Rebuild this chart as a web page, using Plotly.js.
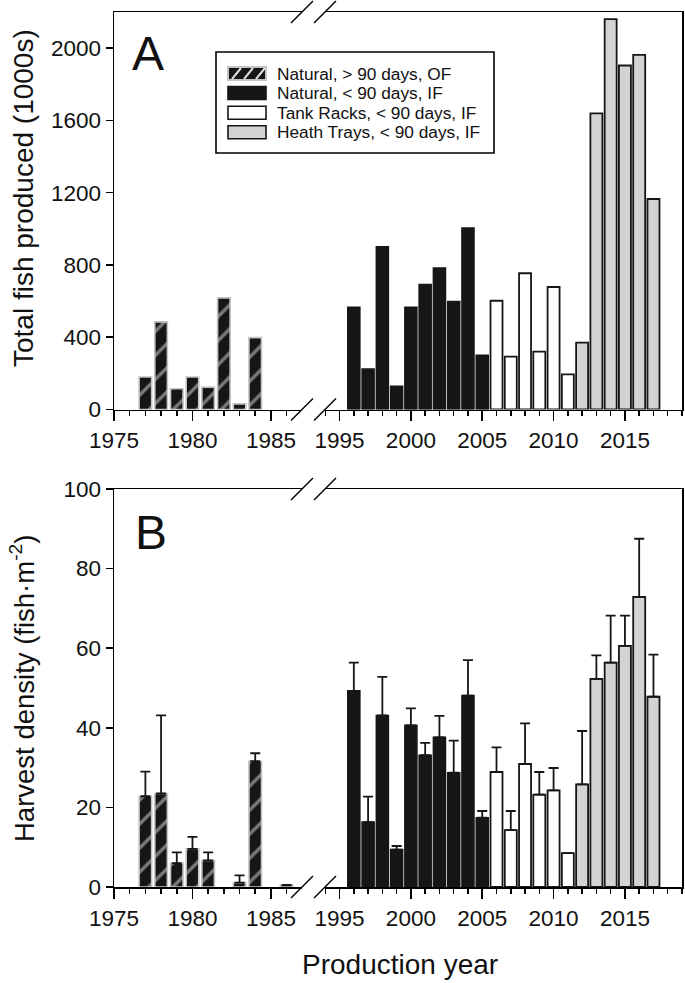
<!DOCTYPE html>
<html>
<head>
<meta charset="utf-8">
<script src="https://cdn.plot.ly/plotly-3.0.1.min.js"></script>
<style>
  html, body { margin: 0; padding: 0; background: #fff; }
  #chart { width: 685px; height: 983px; }
</style>
</head>
<body>
<div id="chart"></div>
<script>
// ---------------- DATA ----------------
const seriesNames = [
  "Natural, > 90 days, OF",
  "Natural, < 90 days, IF",
  "Tank Racks, < 90 days, IF",
  "Heath Trays, < 90 days, IF"
];
const yTitleA = "Total fish produced (1000s)";
const yTitleB = "Harvest density (fish·m<sup>-2</sup>)";
const xTitle = "Production year";
const panelLabels = ["A", "B"];

// Natural, > 90 days, OF (early period)
const yearsOF = [1977, 1978, 1979, 1980, 1981, 1982, 1983, 1984, 1985, 1986];
const producedOF = [180, 485, 115, 180, 124, 618, 31, 398, null, null];
const densityOF = [22.8, 23.5, 6.0, 9.6, 6.7, null, 1.1, 31.6, null, 0.5];
const densityErrOF = [6.2, 19.6, 2.7, 3.0, 2.0, null, 1.8, 2.0, null, 0];

// Natural, < 90 days, IF
const yearsNat = [1996, 1997, 1998, 1999, 2000, 2001, 2002, 2003, 2004, 2005];
const producedNat = [565, 224, 900, 128, 565, 691, 783, 598, 1004, 300];
const densityNat = [49.3, 16.3, 43.1, 9.4, 40.6, 33.1, 37.6, 28.7, 48.1, 17.4];
const densityErrNat = [7.1, 6.4, 9.7, 0.9, 4.3, 3.1, 5.4, 8.1, 8.9, 1.7];

// Tank Racks, < 90 days, IF
const yearsTank = [2006, 2007, 2008, 2009, 2010, 2011];
const producedTank = [602, 293, 754, 320, 678, 194];
const densityTank = [28.9, 14.3, 30.9, 23.2, 24.3, 8.5];
const densityErrTank = [6.2, 4.8, 10.2, 5.7, 5.6, 0];

// Heath Trays, < 90 days, IF
const yearsHeath = [2012, 2013, 2014, 2015, 2016, 2017];
const producedHeath = [370, 1639, 2161, 1904, 1963, 1165];
const densityHeath = [25.8, 52.3, 56.4, 60.6, 72.9, 47.8];
const densityErrHeath = [13.4, 5.9, 11.8, 7.6, 14.6, 10.6];

// axis settings
const leftRange = [1975, 1986.98];
const rightRange = [1993.98, 2019];
const rangeA = [0, 2200];
const rangeB = [0, 100];

// ---------------- LAYOUT HELPERS ----------------
const W = 685, H = 983;
const px = v => v / W;
const py = v => 1 - v / H;
const FONT = "Liberation Sans, Arial, Helvetica, sans-serif";
const BLACK = "#161616";
const TEXT = "#111";
const TICKSIZE = 22.5;

const plotL = 114, breakL = 302, breakR = 325, plotR = 682;
const A_top = 12, A_bot = 409.5, B_top = 489, B_bot = 887;

function zeros(a) { return a.map(() => 0); }

const styles = [
  { color: BLACK, line: { color: "#c4c4c4", width: 1.6 },
    pattern: { shape: "/", fgcolor: "#dcdcdc", size: 17, solidity: 0.2, fillmode: "overlay" } },
  { color: BLACK, line: { color: BLACK, width: 1.6 } },
  { color: "#ffffff", line: { color: BLACK, width: 1.8 } },
  { color: "#d3d3d3", line: { color: BLACK, width: 1.8 } }
];

function bar(name, x, y, xa, ya, style, w, err) {
  const t = {
    type: "bar", name: name, x: x, y: y, xaxis: xa, yaxis: ya,
    width: w, marker: style, showlegend: false, hoverinfo: "x+y"
  };
  if (err) {
    t.error_y = { type: "data", symmetric: false, array: err, arrayminus: zeros(err),
                  color: BLACK, thickness: 1.8, width: 5 };
  }
  return t;
}

const wL = 0.8, wR = 0.84;
const data = [
  bar(seriesNames[0], yearsOF, producedOF, "x", "y", styles[0], wL),
  bar(seriesNames[1], yearsNat, producedNat, "x2", "y2", styles[1], wR),
  bar(seriesNames[2], yearsTank, producedTank, "x2", "y2", styles[2], wR),
  bar(seriesNames[3], yearsHeath, producedHeath, "x2", "y2", styles[3], wR),
  bar(seriesNames[0], yearsOF, densityOF, "x3", "y3", styles[0], wL, densityErrOF),
  bar(seriesNames[1], yearsNat, densityNat, "x4", "y4", styles[1], wR, densityErrNat),
  bar(seriesNames[2], yearsTank, densityTank, "x4", "y4", styles[2], wR, densityErrTank),
  bar(seriesNames[3], yearsHeath, densityHeath, "x4", "y4", styles[3], wR, densityErrHeath)
];

function xAxis(domain, range, tick0, anchor) {
  return {
    domain: domain, range: range, anchor: anchor, tick0: tick0, dtick: 5,
    ticks: "outside", ticklen: 10, tickwidth: 1.5, tickcolor: "#000",
    ticklabelstandoff: 4.5,
    showline: true, linecolor: "#000", linewidth: 1.5, mirror: true,
    showgrid: false, zeroline: false, fixedrange: true,
    tickfont: { family: FONT, size: TICKSIZE, color: TEXT },
    minor: { dtick: 1, tick0: tick0, ticks: "outside", ticklen: 5, tickwidth: 1.5, tickcolor: "#000", showgrid: false }
  };
}
function yAxisMain(domain, range, dtick, anchor) {
  return {
    domain: domain, range: range, anchor: anchor, dtick: dtick, tick0: 0,
    ticks: "outside", ticklen: 7, tickwidth: 1.5, tickcolor: "#000",
    ticklabelstandoff: 4.5,
    showline: true, linecolor: "#000", linewidth: 1.5,
    showgrid: false, zeroline: false, fixedrange: true,
    tickfont: { family: FONT, size: TICKSIZE, color: TEXT }
  };
}
function yAxisRight(domain, match, anchor) {
  return {
    domain: domain, matches: match, anchor: anchor, side: "right",
    showline: true, linecolor: "#000", linewidth: 1.5,
    ticks: "", showticklabels: false, showgrid: false, zeroline: false, fixedrange: true
  };
}

const domL = [px(plotL), px(breakL)];
const domR = [px(breakR), px(plotR)];
const domA = [py(A_bot), py(A_top)];
const domB = [py(B_bot), py(B_top)];

// break marks (two slashes at each break of the frame)
const shapes = [];
function slashes(yc) {
  [[291, 313], [314, 336]].forEach(([x0, x1]) => {
    shapes.push({ type: "line", xref: "paper", yref: "paper",
      x0: px(x0), x1: px(x1), y0: py(yc + 11), y1: py(yc - 11),
      line: { color: "#000", width: 1.5 } });
  });
}
[A_top, A_bot, B_top, B_bot].forEach(slashes);

// legend box (panel A)
const legBox = { x0: 216, x1: 494, y0: 52, y1: 153 };
shapes.push({ type: "rect", xref: "paper", yref: "paper",
  x0: px(legBox.x0), x1: px(legBox.x1), y0: py(legBox.y1), y1: py(legBox.y0),
  line: { color: "#000", width: 1.6 }, fillcolor: "rgba(255,255,255,0)" });
const legRows = [73.5, 93, 112.7, 132.3];
const annotations = [];
legRows.forEach((yc, i) => {
  const s = styles[i];
  shapes.push({ type: "rect", xref: "paper", yref: "paper",
    x0: px(228), x1: px(266), y0: py(yc + 6.5), y1: py(yc - 6.5),
    fillcolor: s.color, line: { color: s.line.color, width: i === 0 ? 2 : 1.6 } });
  if (i === 0) {
    [232, 244, 256].forEach(x0 => {
      shapes.push({ type: "line", xref: "paper", yref: "paper",
        x0: px(x0), x1: px(x0 + 9), y0: py(yc + 5.5), y1: py(yc - 5.5),
        line: { color: "#dcdcdc", width: 2 } });
    });
  }
  annotations.push({ xref: "paper", yref: "paper", x: px(275), y: py(yc),
    xanchor: "left", yanchor: "middle", showarrow: false, text: seriesNames[i],
    font: { family: FONT, size: 17.3, color: TEXT } });
});

// panel letters
annotations.push({ xref: "paper", yref: "paper", x: px(148), y: py(53.5), xanchor: "center", yanchor: "middle",
  showarrow: false, text: panelLabels[0], font: { family: FONT, size: 48, color: TEXT } });
annotations.push({ xref: "paper", yref: "paper", x: px(151), y: py(532.5), xanchor: "center", yanchor: "middle",
  showarrow: false, text: panelLabels[1], font: { family: FONT, size: 48, color: TEXT } });
// axis titles
annotations.push({ xref: "paper", yref: "paper", x: px(399.5), y: py(964), xanchor: "center", yanchor: "middle",
  showarrow: false, text: xTitle, font: { family: FONT, size: 28, color: TEXT } });
annotations.push({ xref: "paper", yref: "paper", x: px(23), y: py(198), xanchor: "center", yanchor: "middle",
  textangle: -90, showarrow: false, text: yTitleA, font: { family: FONT, size: 28, color: TEXT } });
annotations.push({ xref: "paper", yref: "paper", x: px(22), y: py(689), xanchor: "center", yanchor: "middle",
  textangle: -90, showarrow: false, text: yTitleB, font: { family: FONT, size: 27.5, color: TEXT } });

const layout = {
  width: W, height: H,
  margin: { l: 0, r: 0, t: 0, b: 0, pad: 0 },
  paper_bgcolor: "#fff", plot_bgcolor: "rgba(0,0,0,0)",
  showlegend: false, barmode: "overlay",
  font: { family: FONT, color: TEXT },
  xaxis: xAxis(domL, leftRange, 1975, "y"),
  xaxis2: xAxis(domR, rightRange, 1995, "y2"),
  xaxis3: xAxis(domL, leftRange, 1975, "y3"),
  xaxis4: xAxis(domR, rightRange, 1995, "y4"),
  yaxis: yAxisMain(domA, rangeA, 400, "x"),
  yaxis2: yAxisRight(domA, "y", "x2"),
  yaxis3: yAxisMain(domB, rangeB, 20, "x3"),
  yaxis4: yAxisRight(domB, "y3", "x4"),
  shapes: shapes,
  annotations: annotations
};

Plotly.newPlot("chart", data, layout, { staticPlot: true, displayModeBar: false });
</script>
</body>
</html>
